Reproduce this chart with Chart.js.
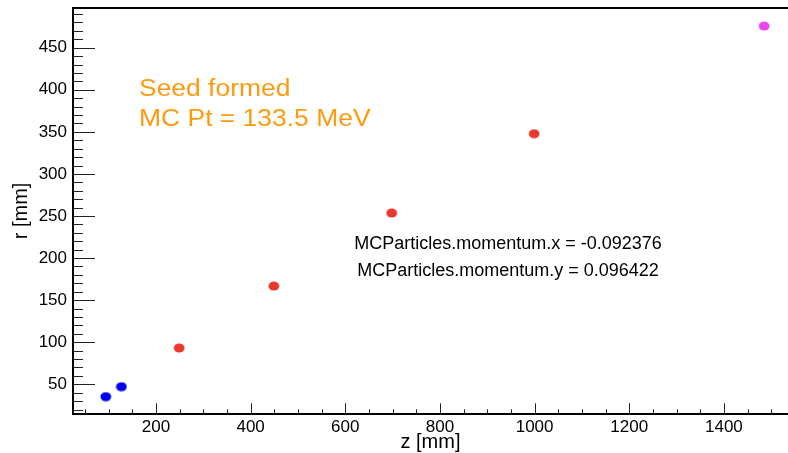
<!DOCTYPE html>
<html>
<head>
<meta charset="utf-8">
<script src="https://cdn.jsdelivr.net/npm/chart.js@4"></script>
<style>
  html, body { margin: 0; padding: 0; background: #ffffff; overflow: hidden; }
  #wrap { width: 788px; height: 453px; }
</style>
</head>
<body>
<div id="wrap"><canvas id="c" width="788" height="453"></canvas></div>
<script>
// ---- data ----
const blueZ = [94, 127];
const blueR = [35.3, 47.2];
const redZ = [249, 449, 698, 999];
const redR = [93.2, 166.8, 253.6, 347.8];
const magentaZ = [1485];
const magentaR = [475.8];

// ---- axes ----
const xRange = [24.7, 1535.4];
const yRange = [14.35, 497.8];
const xMajorTicks = [200, 400, 600, 800, 1000, 1200, 1400];
const yMajorTicks = [50, 100, 150, 200, 250, 300, 350, 400, 450];
const xMinorStep = 50;
const yMinorStep = 10;

const xTitle = 'z [mm]';
const yTitle = 'r [mm]';
const noteLines = ['Seed formed', 'MC Pt = 133.5 MeV'];
const infoLines = ['MCParticles.momentum.x = -0.092376', 'MCParticles.momentum.y = 0.096422'];

const FONT = '"Liberation Sans", Arial, Helvetica, sans-serif';

function ellipseImg(color) {
  const c = document.createElement('canvas');
  c.width = 12; c.height = 10;
  const g = c.getContext('2d');
  g.fillStyle = color;
  g.beginPath();
  g.ellipse(6, 5, 5.4, 4.5, 0, 0, Math.PI * 2);
  g.fill();
  return c;
}

function toPts(zs, rs) { return zs.map((z, i) => ({ x: z, y: rs[i] })); }

function stepTicks(lo, hi, step, majors) {
  const out = [];
  const start = Math.ceil(lo / step) * step;
  for (let v = start; v <= hi + 1e-9; v += step) {
    out.push({ value: v, major: majors.includes(v) });
  }
  return out;
}

function noPad(s) { s.paddingTop = 0; s.paddingBottom = 0; s.paddingLeft = 0; s.paddingRight = 0; }

const tickMarks = {
  id: 'tickMarks',
  beforeDatasetsDraw(chart) {
    const { ctx, chartArea: a, scales } = chart;
    ctx.save();
    ctx.strokeStyle = '#222';
    ctx.lineWidth = 1;
    ctx.beginPath();
    scales.x.ticks.forEach(t => {
      const px = Math.round(scales.x.getPixelForValue(t.value)) + 0.5;
      const len = t.major ? 11 : 5;
      ctx.moveTo(px, a.bottom);
      ctx.lineTo(px, a.bottom - len);
    });
    scales.y.ticks.forEach(t => {
      const py = Math.round(scales.y.getPixelForValue(t.value)) + 0.5;
      const len = t.major ? 22 : 10;
      ctx.moveTo(a.left, py);
      ctx.lineTo(a.left + len, py);
    });
    ctx.stroke();
    ctx.restore();
  }
};

const notes = {
  id: 'notes',
  afterDraw(chart) {
    const ctx = chart.ctx;
    ctx.save();
    ctx.fillStyle = '#fd9a10';
    ctx.font = '23px ' + FONT;
    ctx.textBaseline = 'alphabetic';
    ctx.translate(139, 0);
    ctx.scale(1.15, 1);
    ctx.fillText(noteLines[0], 0, 96);
    ctx.fillText(noteLines[1], 0, 126);
    ctx.restore();

    ctx.save();
    ctx.fillStyle = '#000';
    ctx.font = '18px ' + FONT;
    ctx.textAlign = 'center';
    ctx.textBaseline = 'alphabetic';
    ctx.fillText(infoLines[0], 508, 249.3);
    ctx.fillText(infoLines[1], 508, 276);
    ctx.restore();
  }
};

new Chart(document.getElementById('c'), {
  type: 'scatter',
  data: {
    datasets: [
      { label: 'blue', data: toPts(blueZ, blueR), pointStyle: ellipseImg('#0000f0') },
      { label: 'red', data: toPts(redZ, redR), pointStyle: ellipseImg('#e8392b') },
      { label: 'magenta', data: toPts(magentaZ, magentaR), pointStyle: ellipseImg('#e845ef') }
    ]
  },
  options: {
    responsive: false,
    animation: false,
    events: [],
    layout: { padding: 0, autoPadding: false },
    plugins: { legend: { display: false }, tooltip: { enabled: false } },
    scales: {
      x: {
        type: 'linear', position: 'bottom',
        min: xRange[0], max: xRange[1],
        afterBuildTicks: s => { s.ticks = stepTicks(xRange[0], xRange[1], xMinorStep, xMajorTicks); },
        afterFit: s => { s.height = 38.7; noPad(s); },
        ticks: {
          autoSkip: false, maxRotation: 0, minRotation: 0, padding: 3,
          color: '#000', font: { family: FONT, size: 17 },
          callback: v => xMajorTicks.includes(v) ? String(v) : ''
        },
        grid: { drawOnChartArea: false, drawTicks: false },
        border: { display: true, color: '#000', width: 2 },
        title: { display: true, text: xTitle, color: '#000', font: { family: FONT, size: 20 }, padding: { top: 0, bottom: -1 } }
      },
      x2: {
        type: 'linear', position: 'top',
        min: xRange[0], max: xRange[1],
        afterFit: s => { s.height = 7.5; noPad(s); },
        ticks: { display: false },
        grid: { drawOnChartArea: false, drawTicks: false },
        border: { display: true, color: '#000', width: 2 }
      },
      y: {
        type: 'linear', position: 'left',
        min: yRange[0], max: yRange[1],
        afterBuildTicks: s => { s.ticks = stepTicks(yRange[0], yRange[1], yMinorStep, yMajorTicks); },
        afterFit: s => { s.width = 73; noPad(s); },
        ticks: {
          autoSkip: false, padding: 6,
          color: '#000', font: { family: FONT, size: 17 },
          callback: v => yMajorTicks.includes(v) ? String(v) : ''
        },
        grid: { drawOnChartArea: false, drawTicks: false },
        border: { display: true, color: '#000', width: 2 },
        title: { display: true, text: yTitle, color: '#000', font: { family: FONT, size: 20 }, padding: { top: 9, bottom: 0 } }
      }
    }
  },
  plugins: [tickMarks, notes]
});
</script>
</body>
</html>
